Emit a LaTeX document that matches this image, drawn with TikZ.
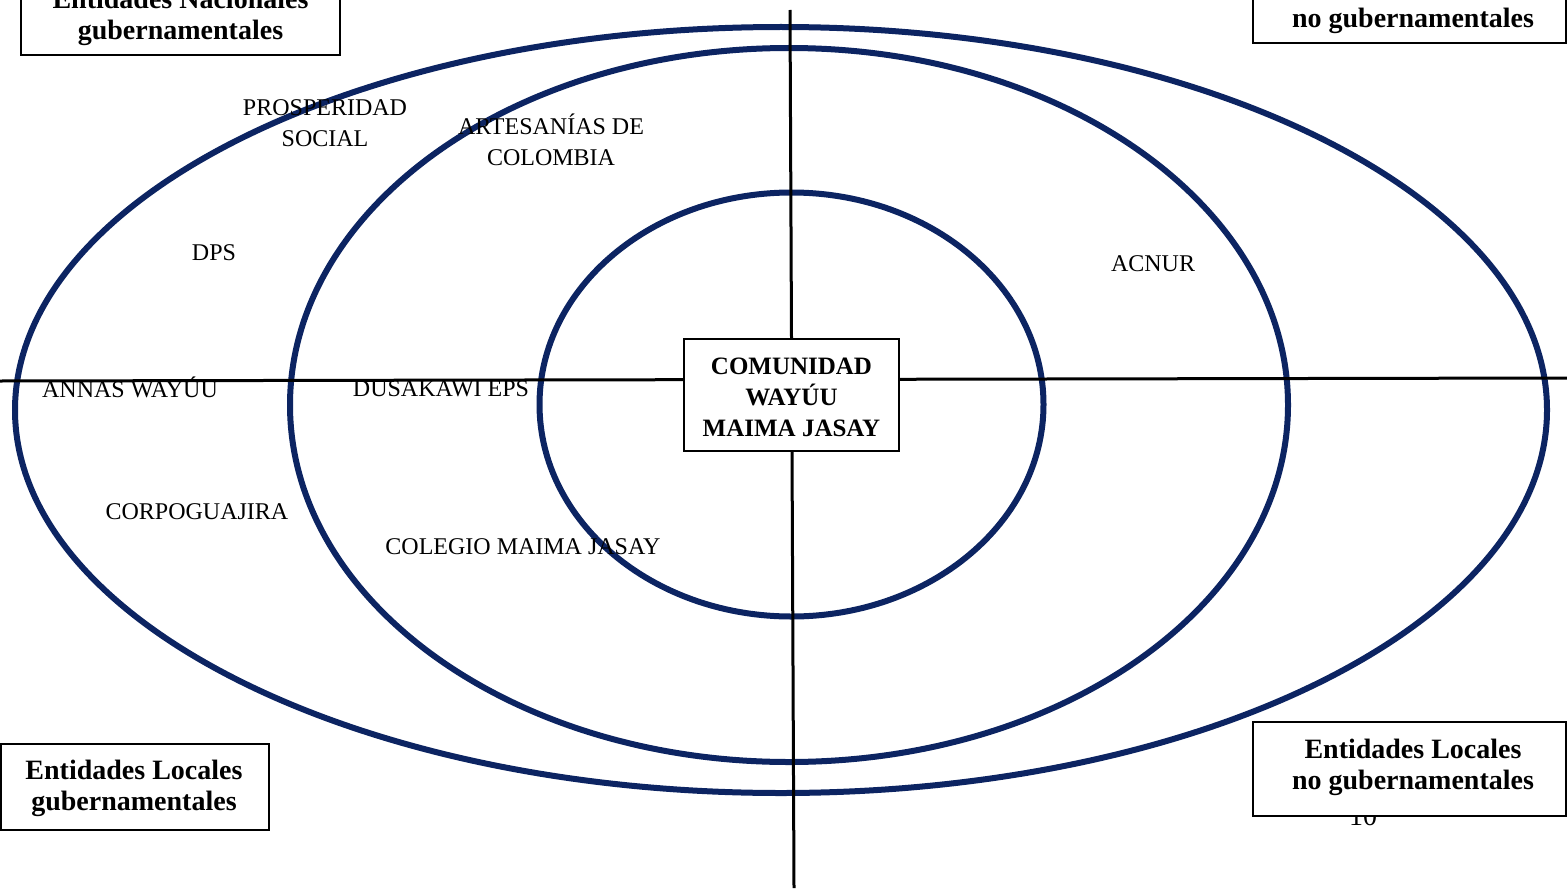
\documentclass[tikz,border=0pt]{standalone}
\usepackage{fontspec}
\setmainfont{Liberation Serif}
\definecolor{navy}{RGB}{12,36,98}
\begin{document}
\begin{tikzpicture}[x=0.5pt,y=-0.5pt,
  ring/.style={draw=navy,line width=3pt},
  axis/.style={draw=black,line width=1.5pt},
  box/.style={draw=black,line width=1pt,fill=white,inner sep=0pt,outer sep=0pt,align=center},
  btxt/.style={align=center,inner sep=0pt,font=\bfseries\fontsize{14}{15.5}\selectfont},
  lbl/.style={align=center,inner sep=0pt,font=\fontsize{12}{15.5}\selectfont}]
\useasboundingbox (0,0) rectangle (1567,888);
\clip (0,0) rectangle (1567,888);
\fill[white] (0,0) rectangle (1567,888);
% rings
\draw[ring] (781,410) ellipse [x radius=383pt, y radius=191.5pt];
\draw[ring] (789,405) ellipse [x radius=249.5pt, y radius=178.5pt];
\draw[ring] (791.5,404.5) ellipse [x radius=126pt, y radius=106pt];
% axes
\coordinate (vt) at (790,10);
\coordinate (vb) at (794,888);
\coordinate (hl) at (0,381);
\coordinate (hr) at (1567,378);
\draw[axis] (vt) -- (vb);
\draw[axis] (hl) -- (hr);
% page number
\node[lbl,font=\fontsize{14}{15.5}\selectfont] (pg) at (1363,816) {10};
% boxes
\node[box,minimum width=159.5pt,minimum height=40pt] (tl) at (180.5,15) {};
\node[btxt] (tlt) at (180.5,17) {Entidades Nacionales\\gubernamentales};
\node[box,minimum width=156.5pt,minimum height=38.5pt] (tr) at (1409.5,4.5) {};
\node[btxt] (trt) at (1413,21) {no gubernamentales};
\node[box,minimum width=134pt,minimum height=43pt] (bl) at (135,787) {};
\node[btxt] (blt) at (134,788.5) {Entidades Locales\\gubernamentales};
\node[box,minimum width=156.5pt,minimum height=47pt] (br) at (1409.5,769) {};
\node[btxt] (brt) at (1413,767) {Entidades Locales\\no gubernamentales};
\node[box,minimum width=107.5pt,minimum height=56pt] (c) at (791.5,395) {};
\node[btxt,font=\bfseries\fontsize{12.5}{15.5}\selectfont] (ct) at (791.5,397) {COMUNIDAD\\WAYÚU\\MAIMA JASAY};
% labels
\node[lbl] (ps) at (325,123) {PROSPERIDAD\\SOCIAL};
\node[lbl] (ar) at (551,140) {ARTESANÍAS DE\\COLOMBIA};
\node[lbl] (dps) at (214,253) {DPS};
\node[lbl] (ac) at (1153,264) {ACNUR};
\node[lbl] (an) at (130,387) {ANNAS WAYÚU};
\node[lbl] (du) at (441,389) {DUSAKAWI EPS};
\node[lbl] (co) at (197,512) {CORPOGUAJIRA};
\node[lbl] (cm) at (523,547) {COLEGIO MAIMA JASAY};
\end{tikzpicture}
\end{document}
